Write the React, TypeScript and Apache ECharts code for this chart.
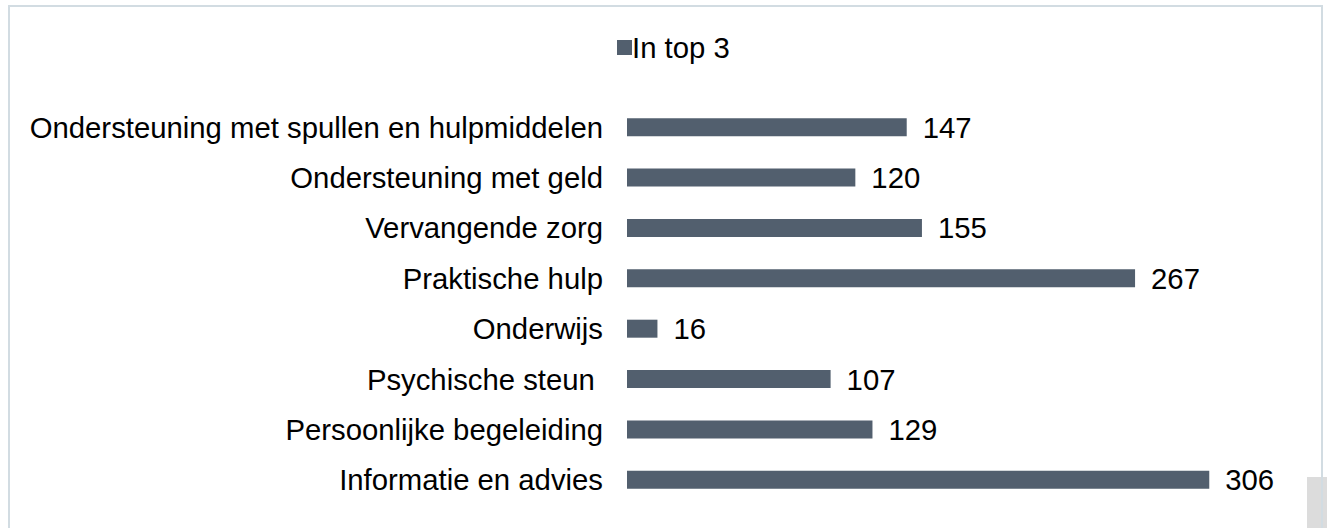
import React, { useEffect, useRef } from "react";
import * as echarts from "echarts";

const categories = [
  "Ondersteuning met spullen en hulpmiddelen",
  "Ondersteuning met geld",
  "Vervangende zorg",
  "Praktische hulp",
  "Onderwijs",
  "Psychische steun ",
  "Persoonlijke begeleiding",
  "Informatie en advies",
];
const values = [147, 120, 155, 267, 16, 107, 129, 306];
const seriesName = "In top 3";

const FONT = "'Liberation Sans', Arial, Helvetica, sans-serif";

export default function App() {
  const ref = useRef<HTMLDivElement>(null);
  useEffect(() => {
    if (!ref.current) return;
    const chart = echarts.init(ref.current, undefined, { renderer: "svg" });
    chart.setOption({
      animation: false,
      backgroundColor: "#ffffff",
      textStyle: { fontFamily: FONT },
      legend: {
        data: [seriesName],
        left: 612,
        top: 28,
        itemWidth: 15,
        itemHeight: 15,
        itemGap: 10,
        icon: "rect",
        textStyle: { fontSize: 29.3, color: "#000", fontFamily: FONT, lineHeight: 29, padding: [0, 0, 0, -5] },
      },
      grid: { left: 627, width: 666, top: 102, height: 403 },
      xAxis: {
        type: "value",
        min: 0,
        max: 350,
        show: false,
      },
      yAxis: {
        type: "category",
        data: categories,
        inverse: true,
        axisLine: { show: false },
        axisTick: { show: false },
        axisLabel: { fontSize: 29.3, color: "#000", fontFamily: FONT, margin: 24 },
      },
      series: [
        {
          name: seriesName,
          type: "bar",
          data: values,
          barWidth: 18,
          itemStyle: { color: "#525f6e" },
          label: {
            show: true,
            position: "right",
            distance: 16,
            fontSize: 29.3,
            color: "#000",
            fontFamily: FONT,
          },
        },
      ],
      graphic: [
        {
          type: "rect",
          z: -1,
          shape: { x: 1307, y: 477, width: 20, height: 51 },
          style: { fill: "#dcdcdc" },
        },
        {
          type: "rect",
          z: 0,
          shape: { x: 9, y: 6, width: 1313, height: 600 },
          style: { fill: "none", stroke: "#d2dce2", lineWidth: 2 },
        },
      ],
    });
    return () => chart.dispose();
  }, []);
  return (
    <div
      ref={ref}
      style={{ position: "fixed", left: 0, top: 0, width: 1327, height: 528 }}
    />
  );
}
